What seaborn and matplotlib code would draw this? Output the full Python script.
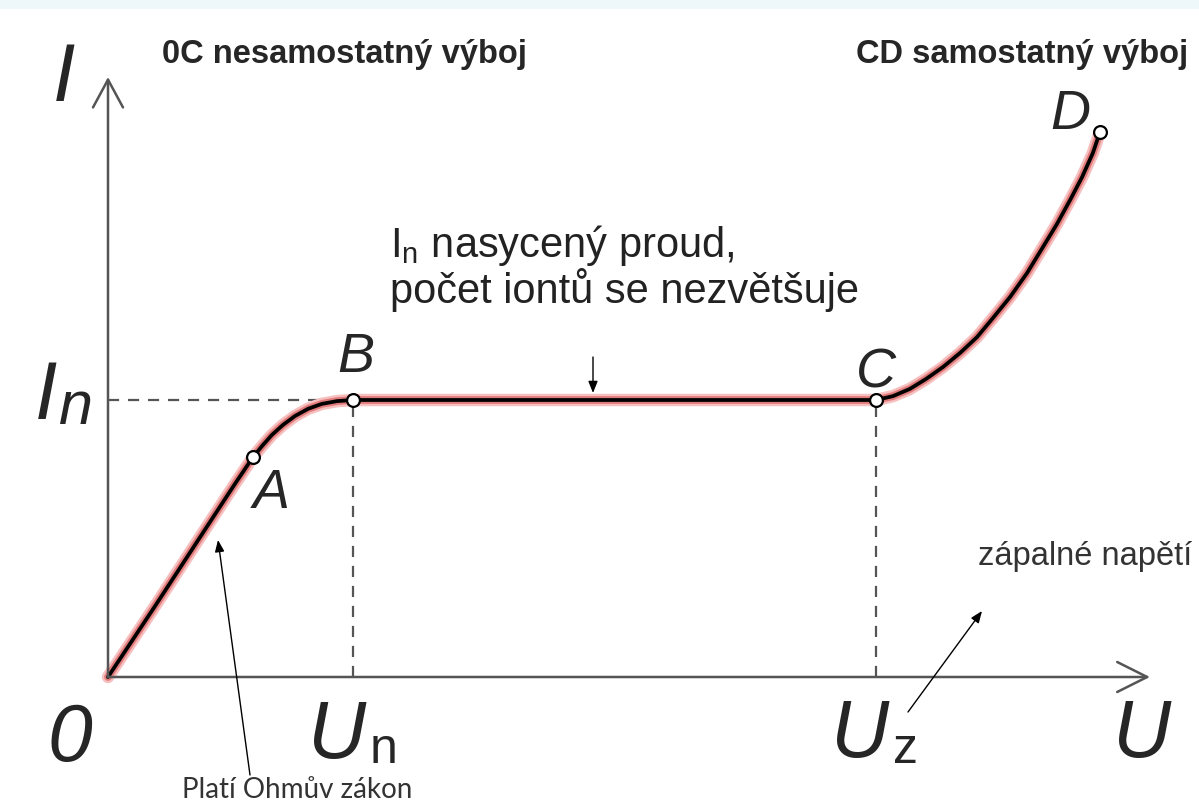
import matplotlib
matplotlib.use("Agg")
import matplotlib.pyplot as plt
import seaborn as sns
import pandas as pd
from matplotlib.patches import Rectangle

# ---------------- data (U in units of U_n, I in units of I_n) ----------------
curve_U = [0.000, 0.192, 0.384, 0.518, 0.592, 0.629, 0.669, 0.714, 0.763, 0.816,
           0.873, 0.935, 1.000, 3.135, 3.204, 3.273, 3.339, 3.408, 3.478, 3.547,
           3.612, 3.682, 3.751, 3.816, 3.873, 3.927, 3.976, 4.020, 4.049]
curve_I = [0.000, 0.256, 0.516, 0.697, 0.794, 0.834, 0.874, 0.910, 0.942, 0.968,
           0.986, 0.996, 1.000, 1.000, 1.014, 1.040, 1.076, 1.119, 1.170, 1.227,
           1.296, 1.372, 1.458, 1.552, 1.635, 1.722, 1.805, 1.892, 1.968]

point_labels = ["A", "B", "C", "D"]
point_U = [0.592, 1.000, 3.135, 4.049]
point_I = [0.794, 1.000, 1.000, 1.968]

U_n, U_z, I_n = 1.000, 3.135, 1.000
U_axis_max, I_axis_max = 4.253, 2.166

title_left = "0C nesamostatný výboj"
title_right = "CD samostatný výboj"
note_saturation = ["nasycený proud,", "počet iontů se nezvětšuje"]
note_ignition = "zápalné napětí"
note_ohm = "Platí Ohmův zákon"

# ---------------- layout helpers (pixel -> data) ----------------
W, H = 1199, 809
OX, OY, SX, SY = 108, 677, 245, 277


def P(x, y):
    return ((x - OX) / SX, (OY - y) / SY)


sns.set_theme(style="white")
plt.rcParams["font.family"] = ["Liberation Sans", "DejaVu Sans"]
plt.rcParams["mathtext.fontset"] = "custom"
plt.rcParams["mathtext.rm"] = "Liberation Sans"
plt.rcParams["mathtext.it"] = "Liberation Sans:italic"

fig = plt.figure(figsize=(W / 100, H / 100), dpi=100)
ax = fig.add_axes([0, 0, 1, 1])
ax.set_xlim(-OX / SX, (W - OX) / SX)
ax.set_ylim((OY - H) / SY, OY / SY)
ax.axis("off")

# faint cyan band at the top
fig.patches.append(Rectangle((0, 1 - 9 / H), 1, 9 / H, transform=fig.transFigure,
                             facecolor="#eef8fb", edgecolor="none", zorder=0))

axis_col = "#555555"
# axes with open arrowheads
ax.annotate("", xy=(U_axis_max, 0), xytext=(0, 0),
            arrowprops=dict(arrowstyle="->,head_length=1.08,head_width=0.54",
                            lw=1.8, color=axis_col, mutation_scale=20,
                            shrinkA=0, shrinkB=0))
ax.annotate("", xy=(0, I_axis_max), xytext=(0, 0),
            arrowprops=dict(arrowstyle="->,head_length=1.0,head_width=0.54",
                            lw=1.8, color=axis_col, mutation_scale=20,
                            shrinkA=0, shrinkB=0))

# dashed guide lines
dash = dict(color=axis_col, lw=1.6, ls=(0, (5, 4)))
ax.plot([0, U_n], [I_n, I_n], **dash)
ax.plot([U_n, U_n], [0, I_n], **dash)
ax.plot([U_z, U_z], [0, I_n], **dash)

# curve with reddish glow
df = pd.DataFrame({"U": curve_U, "I": curve_I})
sns.lineplot(data=df, x="U", y="I", sort=False, estimator=None, ax=ax,
             color="#f7c0c0", lw=9, solid_capstyle="round")
sns.lineplot(data=df, x="U", y="I", sort=False, estimator=None, ax=ax,
             color="#e27c7c", lw=5.6, solid_capstyle="round")
sns.lineplot(data=df, x="U", y="I", sort=False, estimator=None, ax=ax,
             color="black", lw=2.7, solid_capstyle="round")

pts = pd.DataFrame({"U": point_U, "I": point_I, "label": point_labels})
sns.scatterplot(data=pts, x="U", y="I", ax=ax, s=85, color="white",
                edgecolor="black", linewidth=1.6, zorder=5)

# point letters
letter_kw = dict(fontsize=40, style="italic", ha="center", va="center")
letter_pos = {"A": (271, 494), "B": (356, 358), "C": (876, 374), "D": (1070, 115)}
for lab in point_labels:
    ax.text(*P(*letter_pos[lab]), lab, **letter_kw)

# axis labels
big = dict(fontsize=58, style="italic", ha="center", va="center")
ax.text(*P(64, 80), "I", **big)
ax.text(*P(46, 398), "I", **big)
ax.text(*P(76, 408), "n", fontsize=44, style="italic", ha="center", va="center")
ax.text(*P(70, 740), "0", **big)
ax.text(*P(337, 737), "U", **big)
ax.text(*P(384, 750), "n", fontsize=36, ha="center", va="center")
ax.text(*P(860, 736), "U", **big)
ax.text(*P(905, 750), "z", fontsize=36, ha="center", va="center")
ax.text(*P(1142, 736), "U", **big)

# titles
ax.text(*P(162, 55), title_left, fontsize=23.5, fontweight="bold", ha="left", va="center")
ax.text(*P(1188, 55), title_right, fontsize=23.5, fontweight="bold", ha="right", va="center")

# saturation note
ax.text(*P(390, 245), r"I$_\mathrm{n}$ " + note_saturation[0], fontsize=30,
        ha="left", va="center", color="#222222")
ax.text(*P(390, 290), note_saturation[1], fontsize=30, ha="left", va="center",
        color="#222222")
thin_arrow = dict(arrowstyle="-|>,head_length=0.5,head_width=0.2", lw=1.0,
                  color="black", mutation_scale=14, shrinkA=0, shrinkB=0)
ax.annotate("", xy=P(593, 393), xytext=P(593, 357), arrowprops=thin_arrow)

# ignition note
ax.text(*P(978, 557), note_ignition, fontsize=23.5, ha="left", va="center",
        color="#333333")
ax.annotate("", xy=P(982, 611), xytext=P(908, 712), arrowprops=thin_arrow)

# Ohm note
ax.text(*P(297, 790), note_ohm, fontsize=20, family=["Lato", "DejaVu Sans"],
        ha="center", va="center", color="#333333")
ax.annotate("", xy=P(218, 540), xytext=P(250, 775), arrowprops=thin_arrow)

fig.savefig("out.png", dpi=100, facecolor="white")
